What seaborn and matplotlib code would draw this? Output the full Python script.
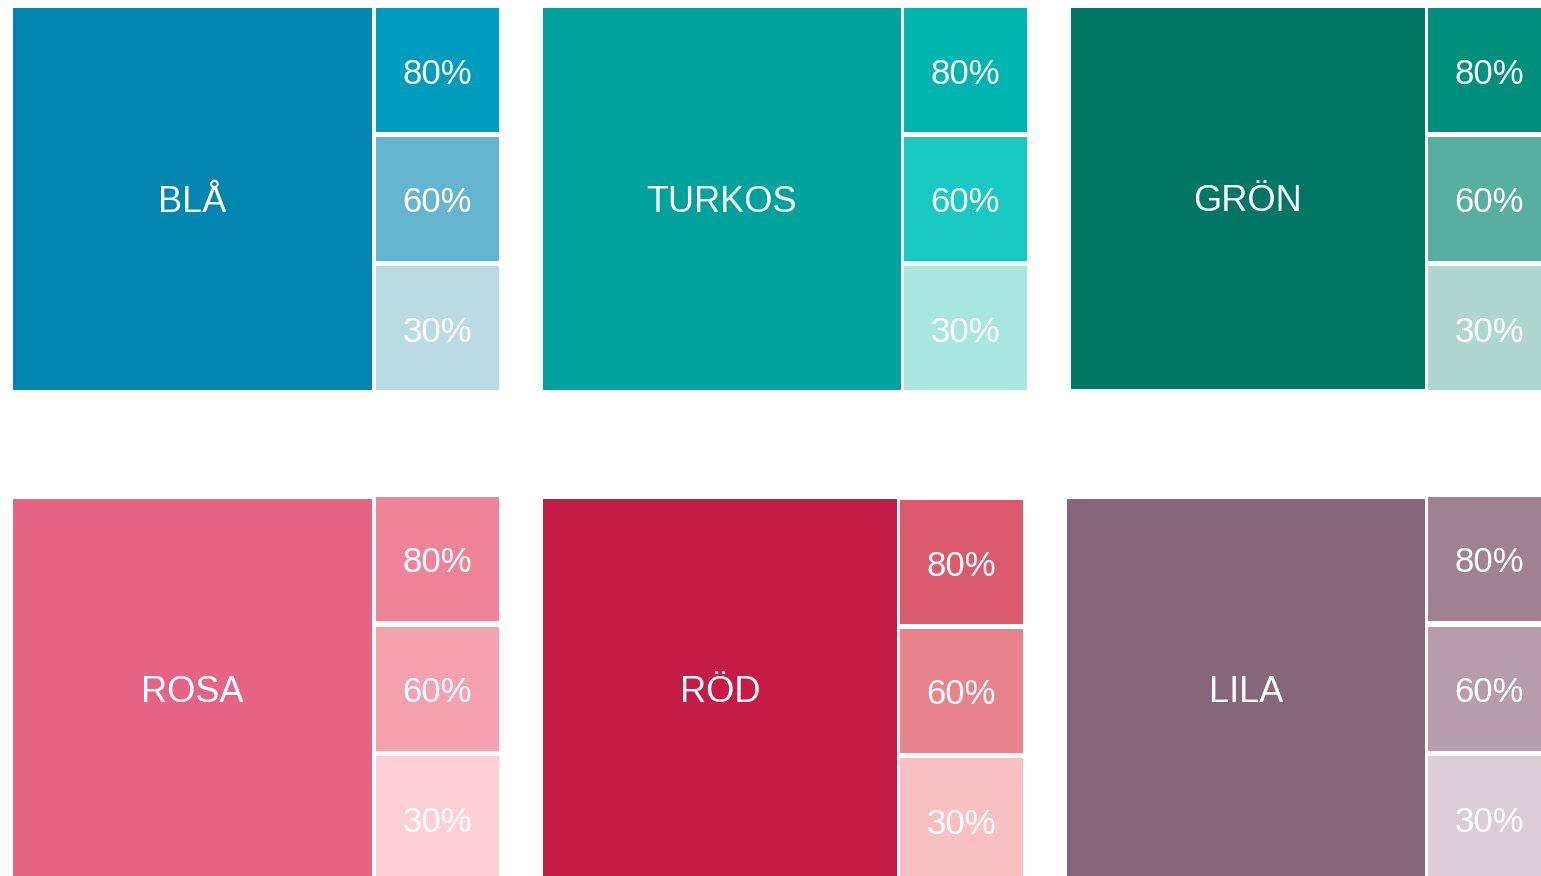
import matplotlib.pyplot as plt
import seaborn as sns

sns.set_theme(style="white")
plt.rcParams['font.family'] = ['Liberation Sans', 'DejaVu Sans']

# colour names and swatches (base, 80%, 60%, 30%)
names = ["BLÅ", "TURKOS", "GRÖN", "ROSA", "RÖD", "LILA"]
base_colors = ["#0285AE", "#00A29C", "#017665", "#E56486", "#C51C47", "#876679"]
tint80 = ["#009CBD", "#00B5AF", "#008E7D", "#EF8399", "#DA5A6C", "#A0818F"]
tint60 = ["#66B5CE", "#19CAC2", "#58AFA0", "#F5A1B0", "#E8828B", "#B79DAB"]
tint30 = ["#BADBE6", "#A8E6E0", "#B0D7CF", "#FDD0D7", "#F8C0C3", "#DACDD5"]
tint_labels = ["80%", "60%", "30%"]

# layout in pixels: (main x, main y, main w, main h, small x, small y-tops)
layout = [
    (13, 8, 359, 382, 376, [8, 137, 266]),
    (543, 8, 358, 382, 904, [8, 137, 266]),
    (1071, 8, 354, 381, 1428, [8, 137, 266]),
    (13, 499, 359, 390, 376, [497, 627, 756]),
    (543, 499, 354, 390, 900, [500, 629, 758]),
    (1067, 499, 358, 390, 1428, [497, 627, 756]),
]
small_w, small_h = 123, 124
text_dy = 4  # nudge labels down to match reference

fig = plt.figure(figsize=(15.41, 8.76), dpi=100)
ax = fig.add_axes([0, 0, 1, 1])

for i, name in enumerate(names):
    mx, my, mw, mh, sx, sys_ = layout[i]
    ax.bar(mx, mh, width=mw, bottom=my, align="edge", color=base_colors[i], linewidth=0)
    # main label centred on the visible part of the big swatch
    visible_h = min(mh, 382)
    ax.text(mx + mw / 2, my + visible_h / 2 + text_dy - 1, name, color="white",
            fontsize=26, ha="center", va="center")
    for j, col in enumerate([tint80[i], tint60[i], tint30[i]]):
        ax.bar(sx, small_h, width=small_w, bottom=sys_[j], align="edge", color=col, linewidth=0)
        ax.text(sx + small_w / 2, sys_[j] + small_h / 2 + text_dy, tint_labels[j], color="white",
                fontsize=25, ha="center", va="center")

ax.set_xlim(0, 1541)
ax.set_ylim(876, 0)
ax.axis("off")

fig.savefig("out.png", dpi=100, facecolor="white")
